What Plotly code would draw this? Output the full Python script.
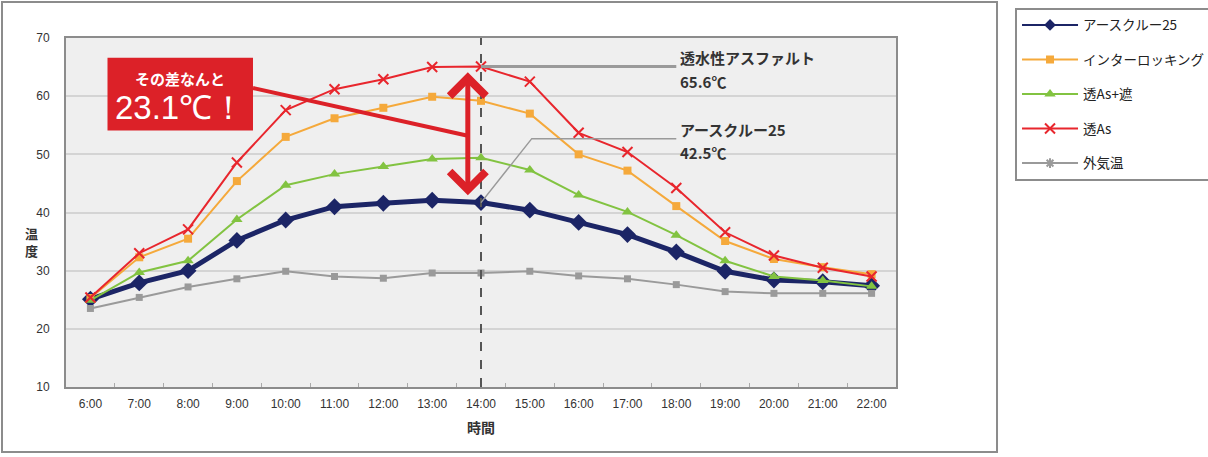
import plotly.graph_objects as go

# 時刻
hours = ["6:00", "7:00", "8:00", "9:00", "10:00", "11:00", "12:00", "13:00", "14:00",
         "15:00", "16:00", "17:00", "18:00", "19:00", "20:00", "21:00", "22:00"]

# 温度 (℃)
earth_crew = [25.1, 27.9, 30.0, 35.2, 38.7, 41.0, 41.6, 42.1, 41.7, 40.4, 38.3, 36.2, 33.2, 29.9, 28.4, 28.1, 27.4]
interlocking = [25.3, 32.3, 35.5, 45.4, 53.0, 56.2, 58.0, 59.9, 59.2, 57.0, 50.0, 47.2, 41.1, 35.1, 32.0, 30.6, 29.4]
as_shade = [24.9, 29.7, 31.7, 38.8, 44.7, 46.6, 47.9, 49.2, 49.4, 47.3, 43.0, 40.1, 36.1, 31.7, 29.0, 28.3, 27.3]
as_perm = [25.4, 33.0, 37.1, 48.6, 57.6, 61.2, 62.9, 65.0, 65.1, 62.5, 53.7, 50.4, 44.2, 36.6, 32.6, 30.5, 29.0]
outdoor = [23.5, 25.4, 27.2, 28.6, 29.9, 29.0, 28.7, 29.6, 29.6, 29.9, 29.1, 28.6, 27.6, 26.4, 26.1, 26.1, 26.1]

series_names = ["アースクルー25", "インターロッキング", "透As+遮", "透As", "外気温"]
y_ticks = [10, 20, 30, 40, 50, 60, 70]

JP = "Noto Sans CJK JP"
RED = "#dc2128"

fig = go.Figure()
styles = [
    (earth_crew, "#1c2566", 5, dict(symbol="diamond", size=13, color="#1c2566"), dict(symbol="diamond", size=9, color="#1c2566")),
    (interlocking, "#f5a93b", 2, dict(symbol="square", size=8, color="#f5a93b"), dict(symbol="square", size=8, color="#f5a93b")),
    (as_shade, "#82c341", 2, dict(symbol="triangle-up", size=10, color="#82c341"), dict(symbol="triangle-up", size=10, color="#82c341")),
    (as_perm, "#e8262d", 2, dict(symbol="x-thin-open", size=10, line=dict(width=2, color="#e8262d")),
     dict(symbol="x-thin-open", size=10, line=dict(width=2, color="#e8262d"))),
    (outdoor, "#9a9a9a", 2, dict(symbol="square", size=7, color="#9a9a9a"), dict(symbol="asterisk-open", size=8, line=dict(width=2, color="#9a9a9a"))),
]
for name, (vals, col, w, mk, leg_mk) in zip(series_names, styles):
    fig.add_scatter(x=hours, y=vals, name=name, mode="lines+markers", showlegend=False,
                    line=dict(color=col, width=w), marker=mk, legendgroup=name)
    # 凡例用 (細線)
    fig.add_scatter(x=[None], y=[None], name=name, mode="lines+markers",
                    line=dict(color=col, width=2), marker=leg_mk, legendgroup=name)

# 14:00 の破線
fig.add_shape(type="line", xref="x", yref="paper", x0=8, x1=8, y0=0, y1=1,
              line=dict(color="#555555", width=2, dash="dash"))

# 外枠
fig.add_shape(type="rect", xref="paper", yref="paper", x0=-0.0771, x1=1.1217, y0=-0.1862, y1=1.1032,
              line=dict(color="#8c8c8c", width=2), layer="below")

# 赤い吹き出し
fig.add_shape(type="rect", xref="x", yref="y", x0=0.35, x1=3.33, y0=54.1, y1=66.6,
              fillcolor=RED, line=dict(width=0))
fig.add_shape(type="line", xref="x", yref="y", x0=3.33, y0=61.4, x1=7.73, y1=53.2,
              line=dict(color=RED, width=4))
fig.add_annotation(x=1.84, y=63.0, xref="x", yref="y", text="<b>その差なんと</b>", showarrow=False,
                   font=dict(family=JP, size=15, color="white"))
fig.add_annotation(x=1.84, y=58.1, xref="x", yref="y", text="23.1℃！", showarrow=False,
                   font=dict(family="Arial", size=33, color="white"))
fig.add_annotation(x=7.73, y=64.1, ax=7.73, ay=42.7, xref="x", yref="y", axref="x", ayref="y",
                   text="", showarrow=True, arrowside="end+start", arrowhead=4, arrowsize=1.4,
                   arrowwidth=5, arrowcolor=RED)

# 引き出し線
fig.add_shape(type="line", xref="x", yref="y", x0=8, y0=as_perm[8], x1=12.0, y1=as_perm[8],
              line=dict(color="#9a9a9a", width=3))
fig.add_shape(type="path", xref="x", yref="y",
              path=f"M 8,{earth_crew[8]} L 9.04,52.7 L 12.0,52.7",
              line=dict(color="#9a9a9a", width=1.5))
for txt, yv in [("透水性アスファルト", 66.7), ("65.6℃", 62.6), ("アースクルー25", 54.3), ("42.5℃", 50.4)]:
    fig.add_annotation(x=12.04, y=yv, xref="x", yref="y", text=f"<b>{txt}</b>", showarrow=False,
                       xanchor="left", font=dict(family=JP, size=15, color="#333333"))

# 縦軸タイトル
fig.add_annotation(x=-0.052, y=0.415, xref="paper", yref="paper", text="<b>温<br>度</b>",
                   showarrow=False, font=dict(family=JP, size=13, color="#333333"))

fig.update_xaxes(type="category", range=[-0.5, 16.5], showgrid=False, showline=True, mirror=True,
                 linecolor="#8c8c8c", linewidth=2, ticks="inside", tickson="boundaries", ticklen=4,
                 tickcolor="#aaaaaa", ticklabelstandoff=5,
                 tickfont=dict(family="Arial", size=12, color="#333333"),
                 title=dict(text="<b>時間</b>", standoff=13, font=dict(family=JP, size=14, color="#333333")))
fig.update_yaxes(range=[10, 70], tickvals=y_ticks, showgrid=True, gridcolor="#d4d4d4", gridwidth=2,
                 showline=True, mirror=True, linecolor="#8c8c8c", linewidth=2, zeroline=False,
                 ticks="", ticklabelstandoff=12,
                 tickfont=dict(family="Arial", size=12, color="#333333"))

fig.update_layout(
    width=1208, height=457,
    margin=dict(l=66, r=312, t=38, b=70, autoexpand=False),
    paper_bgcolor="white", plot_bgcolor="#efefef",
    legend=dict(x=1.1434, y=1.087, xanchor="left", yanchor="top", bgcolor="white",
                bordercolor="#8c8c8c", borderwidth=2, tracegroupgap=14, itemwidth=56,
                font=dict(family=JP, size=13.5, color="#222222")),
)

fig.write_html("out.html", config={"displayModeBar": False},
               post_script="document.body.style.margin='0';document.body.style.overflow='hidden';")
